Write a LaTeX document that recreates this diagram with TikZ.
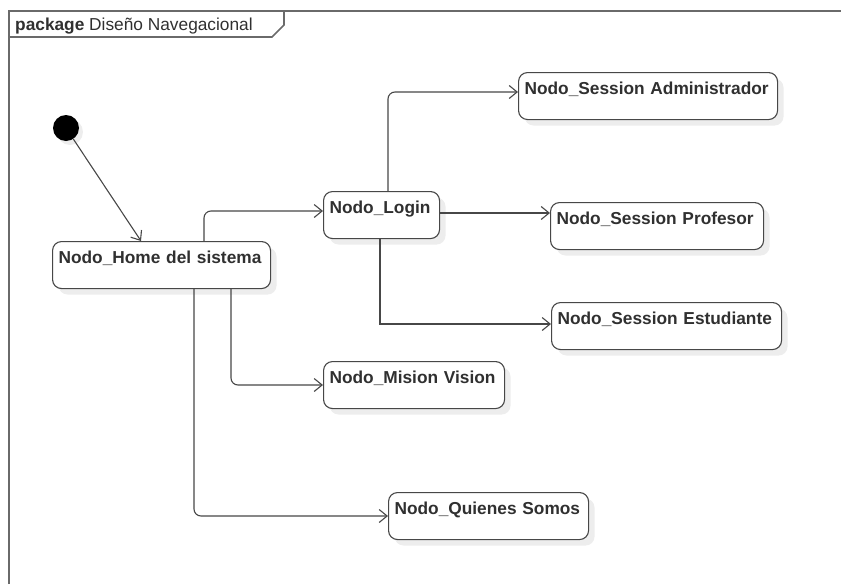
\documentclass[tikz,border=0pt]{standalone}
\usepackage{fontspec}
\setmainfont{Liberation Sans}
\usetikzlibrary{arrows.meta,shadows}
\definecolor{linegray}{HTML}{474747}
\definecolor{framegray}{HTML}{6A6A6A}
\definecolor{textgray}{HTML}{303030}

\begin{document}
\begin{tikzpicture}[x=1pt,y=-1pt,>={Straight Barb[length=8pt,width=13pt,line width=1.1pt]},
	flow/.style={draw=linegray,line width=1.1pt,rounded corners=7pt,->},
	frame/.style={draw=framegray,line width=1.6pt},
	nodo/.style={rectangle,draw=linegray,line width=1.1pt,rounded corners=9pt,fill=white,
		anchor=north west,inner xsep=6pt,inner ysep=10pt,text height=12pt,text depth=15pt,
		align=left,text=textgray,font=\fontsize{17.3}{20}\selectfont\bfseries,
		drop shadow={shadow xshift=6pt,shadow yshift=-6pt,fill=black!7,opacity=1}},
	inicial/.style={circle,fill=black,minimum size=26pt,inner sep=0pt,
		drop shadow={shadow xshift=4pt,shadow yshift=-4pt,fill=black!7,opacity=1}}]

	\useasboundingbox (0,0) rectangle (841,584);

	\draw[frame] (9,584) -- (9,11) -- (841,11);
	\draw[frame] (9,37) -- (272,37) -- (284,25) -- (284,11);
	\node[anchor=base west,inner sep=0pt,text=textgray,font=\fontsize{17.3}{20}\selectfont] (titulo) at (15,30) {\textbf{package} Diseño Navegacional};

	\node[inicial] (inicio) at (66,128) {};
	\node[nodo,text width=206pt] (home) at (52,241) {Nodo\_Home del sistema};
	\node[nodo,text width=104pt] (login) at (323,191) {Nodo\_Login};
	\node[nodo,text width=247pt] (admin) at (518,72) {Nodo\_Session Administrador};
	\node[nodo,text width=201pt] (prof) at (550,202) {Nodo\_Session Profesor};
	\node[nodo,text width=218pt] (est) at (551,302) {Nodo\_Session Estudiante};
	\node[nodo,text width=169pt] (mision) at (323,361) {Nodo\_Mision Vision};
	\node[nodo,text width=188pt] (quienes) at (388,492) {Nodo\_Quienes Somos};

	\draw[flow] (inicio) -- ([xshift=89pt]home.north west);
	\draw[flow] ([xshift=152pt]home.north west) |- ([yshift=-20pt]login.north west);
	\draw[flow] ([xshift=65pt]login.north west) |- ([yshift=-20pt]admin.north west);
	\coordinate (lp) at ([yshift=-22pt]login.north east);
	\draw[flow] (lp) -- (lp -| prof.west);
	\draw[flow,sharp corners] ([xshift=57pt]login.south west) |- ([yshift=-22pt]est.north west);
	\draw[flow] ([xshift=179pt]home.south west) |- ([yshift=-24pt]mision.north west);
	\draw[flow] ([xshift=142pt]home.south west) |- ([yshift=-24pt]quienes.north west);
\end{tikzpicture}
\end{document}
